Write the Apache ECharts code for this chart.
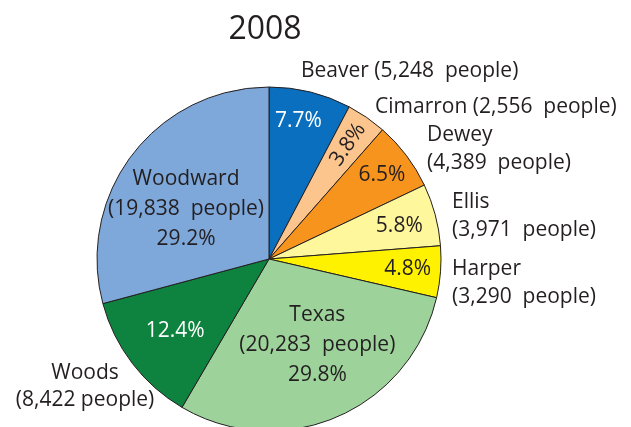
<!DOCTYPE html>
<html>
<head>
<meta charset="utf-8">
<script src="https://cdn.jsdelivr.net/npm/echarts@6/dist/echarts.min.js"></script>
<style>html,body{margin:0;padding:0;background:#fff}#c{width:631px;height:427px}</style>
</head>
<body>
<div id="c"></div>
<script>
const title = '2008';
const names = ['Beaver','Cimarron','Dewey','Ellis','Harper','Texas','Woods','Woodward'];
const people = [5248,2556,4389,3971,3290,20283,8422,19838];
const colors = ['#0b6fbf','#fbc58d','#f7941e','#fff79b','#fff200','#9dd39b','#0e823f','#7ea7da'];
const labelColors = ['#ffffff','#231f20','#231f20','#231f20','#231f20','#231f20','#ffffff','#231f20'];
const smallGroup = ['Beaver','Cimarron','Dewey','Ellis','Harper'];
const midGroup = ['Woods'];
const bigGroup = ['Texas','Woodward'];

const FONT = '"Open Sans", "Noto Sans", sans-serif';
const INK = '#231f20';
const fmt = n => n.toLocaleString('en-US');

const chart = echarts.init(document.getElementById('c'), null, {renderer:'canvas'});
const center = [269, 259];
const R = 172;

function baseData(showSet, extra) {
  return names.map((n, i) => {
    const show = showSet.indexOf(n) >= 0;
    const item = {
      name: n, value: people[i],
      itemStyle: {color: 'rgba(0,0,0,0)', borderWidth: 0},
      label: {show: show, color: labelColors[i]}
    };
    if (extra && extra[n]) Object.assign(item.label, extra[n]);
    return item;
  });
}

const common = {
  type: 'pie', center: center, startAngle: 90, clockwise: true,
  percentPrecision: 1, silent: true, animation: false,
  labelLine: {show: false}, emphasis: {disabled: true},
  label: {position: 'inside', fontFamily: FONT, fontSize: 21, color: INK, formatter: '{d}%'}
};

const series = [
  Object.assign({}, common, {
    radius: [0, R],
    label: {show: false},
    itemStyle: {borderColor: INK, borderWidth: 1},
    data: names.map((n, i) => ({name: n, value: people[i], itemStyle: {color: colors[i]}}))
  }),
  Object.assign({}, common, {
    radius: [100, R],
    data: baseData(smallGroup, {Cimarron: {rotate: 'radial'}, Beaver: {offset: [-4, -3]}, Ellis: {offset: [-4, 3]}, Dewey: {offset: [2, 0]}})
  }),
  Object.assign({}, common, {
    radius: [58, R],
    data: baseData(midGroup)
  }),
  Object.assign({}, common, {
    radius: [26, R],
    label: Object.assign({}, common.label, {
      lineHeight: 30,
      formatter: p => p.name + '\n(' + fmt(p.value) + '  people)\n' + p.percent + '%'
    }),
    data: baseData(bigGroup, {Texas: {offset: [8, -8]}, Woodward: {offset: [-2, 12]}})
  })
];

const outside = [
  {i: 0, x: 301, y: 71, lines: 1},
  {i: 1, x: 375, y: 107, lines: 1},
  {i: 2, x: 427, y: 149, lines: 2},
  {i: 3, x: 452, y: 216, lines: 2},
  {i: 4, x: 452, y: 283, lines: 2}
];
const graphics = outside.map(o => ({
  type: 'text', x: o.x, y: o.y,
  style: {
    text: o.lines === 1 ? names[o.i] + ' (' + fmt(people[o.i]) + '  people)'
                        : names[o.i] + '\n(' + fmt(people[o.i]) + '  people)',
    font: '21px ' + FONT, fill: INK, lineHeight: 28.5, align: 'left', verticalAlign: 'middle'
  }
}));
graphics.push({
  type: 'text', x: 85, y: 387,
  style: {
    text: names[6] + '\n(' + fmt(people[6]) + ' people)',
    font: '21px ' + FONT, fill: INK, lineHeight: 27, align: 'center', verticalAlign: 'middle'
  }
});
graphics.push({
  type: 'text', x: 265, y: 30,
  style: {text: title, font: '32px ' + FONT, fill: INK, align: 'center', verticalAlign: 'middle'}
});

chart.setOption({
  animation: false,
  graphic: graphics,
  series: series
});
</script>
</body>
</html>
